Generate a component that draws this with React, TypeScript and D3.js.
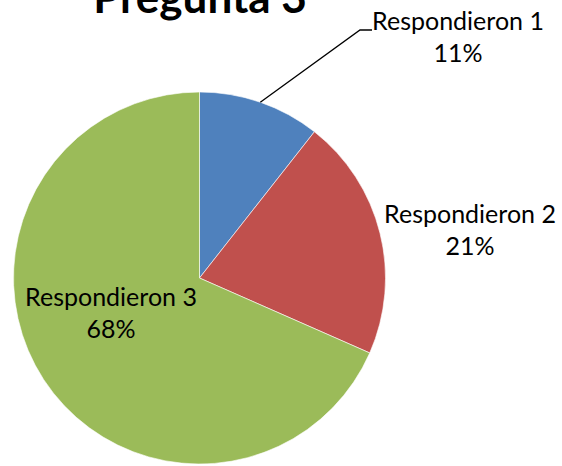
import React from "react";
import * as d3 from "d3";

const categories = ["Respondieron 1", "Respondieron 2", "Respondieron 3"];
const values = [10.6, 21.0, 68.4];
const colors = ["#4F81BD", "#C0504D", "#9BBB59"];
const title = "Pregunta 3";

const W = 562;
const H = 466;
const cx = 199.5;
const cy = 278;
const R = 186;

// label anchor positions (center x, first-line baseline)
const labelPos = [
  { x: 458, y: 30 },
  { x: 470, y: 223 },
  { x: 111, y: 306 },
];

export default function App() {
  const pie = d3.pie<number>().sort(null).value((d) => d)(values);
  const arc = d3.arc<d3.PieArcDatum<number>>().innerRadius(0).outerRadius(R);
  const total = d3.sum(values);
  const fmt = (v: number) => Math.round((v / total) * 100) + "%";

  // leader line for first slice
  const a0 = pie[0];
  const mid = (a0.startAngle + a0.endAngle) / 2;
  const p1 = [cx + Math.sin(mid) * R, cy - Math.cos(mid) * R];

  return (
    <svg
      width={W}
      height={H}
      style={{ position: "absolute", left: 0, top: 0, background: "#fff" }}
      fontFamily="Lato, 'Open Sans', sans-serif"
    >
      <g transform={`translate(${cx},${cy})`}>
        {pie.map((d, i) => (
          <path key={i} d={arc(d) || ""} fill={colors[i]} stroke="#fff" strokeWidth={0.6} />
        ))}
      </g>
      <text x={200} y={13} textAnchor="middle" fontSize={44} fontWeight="bold" fill="#000">
        {title}
      </text>
      <polyline
        points={`${p1[0]},${p1[1]} 360,30 372,30`}
        fill="none"
        stroke="#000"
        strokeWidth={1.3}
      />
      {categories.map((c, i) => (
        <text key={i} textAnchor="middle" fontSize={25} fill="#000">
          <tspan x={labelPos[i].x} y={labelPos[i].y}>{c}</tspan>
          <tspan x={labelPos[i].x} y={labelPos[i].y + 32}>{fmt(values[i])}</tspan>
        </text>
      ))}
    </svg>
  );
}
